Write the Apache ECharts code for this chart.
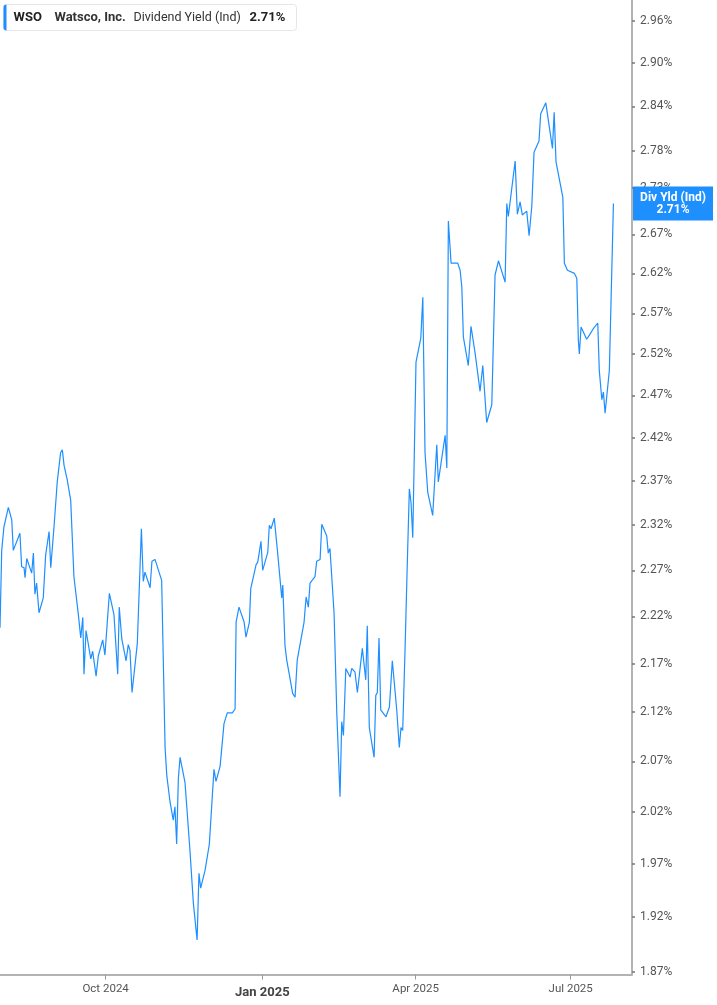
<!DOCTYPE html>
<html>
<head>
<meta charset="utf-8">
<style>
  html, body { margin: 0; padding: 0; background: #ffffff; }
  #chart { width: 717px; height: 1005px; }
</style>
<script src="https://cdn.jsdelivr.net/npm/echarts@6/dist/echarts.min.js"></script>
</head>
<body>
<div id="chart"></div>
<script>
// ---- data ----
const startDate = '2024-07-31';
const endDate = '2025-08-06';
// days since startDate for each observation
const dayOffsets = [
  0, 1.0, 2.3, 4.9, 6.9, 7.8, 8.8, 11.7, 12.7, 14.1, 14.7, 15.7, 18.6, 19.6, 20.5, 21.5, 22.9, 25.4, 26.8, 27.4,
  28.8, 29.8, 31.7, 33.6, 35.6, 36.6, 37.6, 39.5, 40.5, 41.5, 43.4, 46.0, 47.4, 48.6, 49.3, 50.5, 53.3, 54.4, 56.4, 57.7,
  60.3, 61.6, 64.2, 66.9, 69.1, 70.0, 71.5, 74.0, 75.3, 76.3, 77.5, 80.6, 83.0, 84.1, 85.1, 88.1, 89.2, 91.0, 94.9, 96.9,
  97.9, 99.8, 101.7, 102.7, 103.7, 104.7, 105.7, 108.6, 109.6, 110.6, 111.5, 113.5, 115.7, 116.8, 117.8, 120.4, 122.9, 123.9, 125.6, 126.8,
  129.2, 131.5, 133.4, 136.4, 138.0, 138.6, 140.3, 143.3, 144.4, 146.4, 147.2, 150.3, 151.3, 153.2, 154.2, 157.2, 158.1, 159.1, 161.0, 163.0,
  165.4, 166.0, 167.3, 168.3, 171.8, 173.2, 174.5, 178.5, 179.7, 181.0, 182.0, 184.9, 185.9, 187.9, 188.9, 191.8, 192.7, 193.7, 196.1, 197.7,
  199.6, 200.6, 201.6, 203.0, 205.5, 206.5, 208.4, 209.8, 212.7, 213.7, 214.7, 215.6, 216.8, 219.6, 220.6, 221.5, 222.5, 223.5, 226.6, 228.6,
  230.3, 232.9, 234.4, 235.4, 236.4, 237.8, 239.1, 240.3, 241.3, 242.3, 244.2, 247.0, 248.2, 249.5, 250.5, 251.1, 254.0, 256.4, 257.3, 261.3,
  262.3, 263.2, 264.8, 268.7, 270.1, 271.1, 272.0, 274.9, 276.5, 277.5, 278.9, 281.8, 283.4, 284.3, 285.7, 288.7, 290.6, 292.6, 296.5, 297.5,
  298.4, 302.4, 303.7, 305.3, 306.6, 309.2, 310.6, 312.2, 313.5, 316.4, 317.4, 320.4, 324.3, 325.3, 326.4, 330.4, 331.3, 333.1, 337.2, 338.6,
  339.5, 340.1, 341.1, 344.4, 346.0, 346.8, 348.0, 350.9, 351.8, 353.3, 354.2, 355.2, 357.7, 360.1
];
// dividend yield, percent
const yieldValues = [
  2.208, 2.292, 2.318, 2.340, 2.326, 2.292, 2.291, 2.311, 2.274, 2.273, 2.262, 2.283, 2.267, 2.289, 2.244, 2.256, 2.224, 2.240, 2.287, 2.286,
  2.313, 2.273, 2.318, 2.369, 2.403, 2.406, 2.388, 2.371, 2.372, 2.348, 2.263, 2.222, 2.197, 2.219, 2.159, 2.205, 2.175, 2.183, 2.157, 2.178,
  2.195, 2.179, 2.245, 2.222, 2.159, 2.230, 2.196, 2.173, 2.190, 2.184, 2.140, 2.191, 2.316, 2.258, 2.268, 2.251, 2.280, 2.282, 2.259, 2.084,
  2.056, 2.030, 2.012, 2.025, 1.989, 2.053, 2.074, 2.049, 2.026, 2.025, 1.983, 1.933, 1.899, 1.961, 1.947, 1.964, 1.989, 1.990, 2.062, 2.050,
  2.065, 2.108, 2.119, 2.119, 2.123, 2.214, 2.230, 2.214, 2.198, 2.214, 2.250, 2.276, 2.279, 2.302, 2.270, 2.290, 2.320, 2.316, 2.328, 2.289,
  2.240, 2.254, 2.189, 2.174, 2.139, 2.135, 2.174, 2.214, 2.241, 2.230, 2.256, 2.263, 2.280, 2.282, 2.321, 2.308, 2.289, 2.294, 2.224, 2.119,
  2.035, 2.110, 2.096, 2.165, 2.156, 2.165, 2.161, 2.140, 2.186, 2.184, 2.153, 2.210, 2.104, 2.074, 2.137, 2.140, 2.197, 2.122, 2.115, 2.125,
  2.173, 2.122, 2.084, 2.104, 2.101, 2.187, 2.278, 2.361, 2.345, 2.306, 2.510, 2.539, 2.590, 2.403, 2.403, 2.357, 2.331, 2.412, 2.369, 2.423,
  2.385, 2.687, 2.633, 2.633, 2.624, 2.603, 2.541, 2.506, 2.554, 2.555, 2.521, 2.475, 2.506, 2.504, 2.438, 2.459, 2.618, 2.636, 2.609, 2.710,
  2.693, 2.766, 2.696, 2.712, 2.695, 2.700, 2.668, 2.707, 2.778, 2.793, 2.830, 2.845, 2.783, 2.832, 2.765, 2.718, 2.633, 2.624, 2.620, 2.614,
  2.537, 2.520, 2.553, 2.538, 2.543, 2.541, 2.550, 2.558, 2.500, 2.465, 2.474, 2.449, 2.500, 2.71
];
const xTickDates = ['2024-10-01', '2025-01-01', '2025-04-01', '2025-07-01'];
const xTickLabels = ['Oct 2024', 'Jan 2025', 'Apr 2025', 'Jul 2025'];
const yTickValues = [1.87, 1.92, 1.97, 2.02, 2.07, 2.12, 2.17, 2.22, 2.27, 2.32, 2.37, 2.42, 2.47, 2.52, 2.57, 2.62, 2.67, 2.73, 2.78, 2.84, 2.90, 2.96];
const yMin = 1.8675, yMax = 2.9898;
const ticker = 'WSO', company = 'Watsco, Inc.', metric = 'Dividend Yield (Ind)', shortMetric = 'Div Yld (Ind)';

// ---- build ----
const DAY = 86400000;
const t0 = Date.parse(startDate + 'T00:00:00Z');
const tEnd = Date.parse(endDate + 'T00:00:00Z');
const seriesData = dayOffsets.map((d, i) => [t0 + d * DAY, yieldValues[i]]);
const lastValue = yieldValues[yieldValues.length - 1];
const xTicks = xTickDates.map(s => Date.parse(s + 'T00:00:00Z'));
const BLUE = '#1e8fff';

const chart = echarts.init(document.getElementById('chart'), null, { renderer: 'canvas' });
chart.setOption({
  animation: false,
  backgroundColor: '#ffffff',
  grid: { left: 0, right: 85, top: 0, bottom: 30.5, containLabel: false },
  xAxis: {
    type: 'value',
    min: t0,
    max: tEnd,
    axisLine: { show: true, onZero: false, lineStyle: { color: '#b3b3b3', width: 2 } },
    axisTick: { show: true, customValues: xTicks, length: 5, lineStyle: { color: '#9a9a9a', width: 1 } },
    axisLabel: {
      customValues: xTicks,
      margin: 9,
      color: '#555',
      fontFamily: 'Roboto',
      fontSize: 11.5,
      formatter: function (v) {
        let i = -1;
        xTicks.forEach((t, k) => { if (Math.abs(t - v) < DAY / 2) i = k; });
        const lab = i >= 0 ? xTickLabels[i] : '';
        return lab.indexOf('Jan') === 0 ? '{b|' + lab + '}' : lab;
      },
      rich: { b: { fontWeight: 'bold', fontSize: 13, color: '#444', fontFamily: 'Roboto', padding: [3, 0, 0, 0] } }
    },
    splitLine: { show: false }
  },
  yAxis: {
    type: 'log',
    logBase: 10,
    position: 'right',
    min: yMin,
    max: yMax,
    axisLine: { show: true, lineStyle: { color: '#9a9a9a', width: 1.5 } },
    axisTick: { show: true, customValues: yTickValues, length: 3, inside: false, lineStyle: { color: '#777', width: 1.5 } },
    axisLabel: {
      customValues: yTickValues,
      margin: 8,
      color: '#555',
      fontFamily: 'Roboto',
      fontSize: 12,
      formatter: v => Number(v).toFixed(2) + '%'
    },
    splitLine: { show: false }
  },
  series: [{
    type: 'line',
    data: seriesData,
    clip: false,
    showSymbol: false,
    symbol: 'none',
    lineStyle: { color: BLUE, width: 1.2 },
    itemStyle: { color: BLUE },
    z: 2
  }, {
    type: 'scatter',
    data: [[tEnd, lastValue]],
    clip: false,
    symbolSize: 0,
    silent: true,
    z: 10,
    itemStyle: { color: BLUE, opacity: 1 },
    label: {
      show: true,
      position: 'right',
      distance: 1,
      opacity: 1,
      formatter: '{a|' + shortMetric + '}\n{a|' + lastValue.toFixed(2) + '%}',
      backgroundColor: BLUE,
      padding: [5, 4, 4, 4],
      rich: { a: { color: '#fff', fontWeight: 'bold', fontSize: 12, fontFamily: 'Roboto', align: 'center', width: 72, lineHeight: 12.5 } }
    }
  }],
  graphic: [{
    type: 'group',
    left: 3, top: 4,
    children: [
      { type: 'rect', shape: { x: 0, y: 0, width: 293, height: 26, r: 3 }, style: { fill: '#fff', stroke: '#e6e6e6', lineWidth: 1 } },
      { type: 'rect', shape: { x: 0, y: 0, width: 3, height: 26, r: [3, 0, 0, 3] }, style: { fill: BLUE } },
      { type: 'text', x: 10, y: 13, style: { text: ticker, font: 'bold 13px Roboto', fill: '#222', textVerticalAlign: 'middle' } },
      { type: 'text', x: 51, y: 13, style: { text: company, font: 'bold 13px Roboto', fill: '#333', textVerticalAlign: 'middle' } },
      { type: 'text', x: 130, y: 13, style: { text: metric, font: '12.5px Roboto', fill: '#333', textVerticalAlign: 'middle' } },
      { type: 'text', x: 246, y: 13, style: { text: lastValue.toFixed(2) + '%', font: 'bold 13px Roboto', fill: '#222', textVerticalAlign: 'middle' } }
    ]
  }]
});
</script>
</body>
</html>
